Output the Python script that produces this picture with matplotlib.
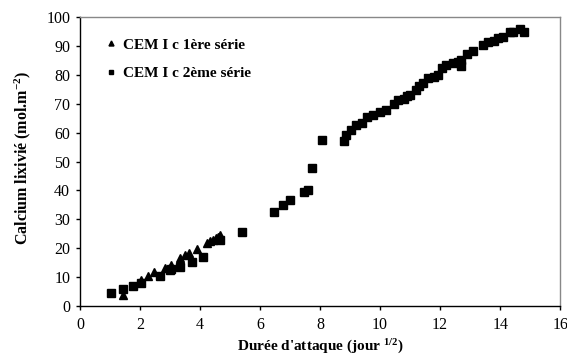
import matplotlib
matplotlib.use("Agg")
import matplotlib.pyplot as plt

plt.rcParams['font.family'] = ['Liberation Serif', 'DejaVu Serif']
plt.rcParams['mathtext.fontset'] = 'custom'
plt.rcParams['mathtext.rm'] = 'Liberation Serif'
plt.rcParams['mathtext.bf'] = 'Liberation Serif:bold'
plt.rcParams['mathtext.it'] = 'Liberation Serif:italic'

series1_label = "CEM I c 1ère série"
series1_x = [1.44, 2.02, 2.26, 2.47, 2.83, 3.02, 3.33, 3.5, 3.63, 3.89, 4.22,
             4.32, 4.42, 4.52, 4.6, 4.68]
series1_y = [3.8, 9.0, 10.5, 11.8, 13.1, 14.3, 16.7, 17.6, 18.5, 19.8, 21.9,
             22.4, 22.9, 23.4, 24.0, 24.5]

series2_label = "CEM I c 2ème série"
series2_x = [1.02, 1.44, 1.76, 2.02, 2.67, 3.0, 3.02, 3.33, 3.74, 4.1, 4.65,
             5.4, 6.47, 6.77, 6.99, 7.47, 7.6, 7.73, 8.07,
             8.81, 8.86, 9.03, 9.2, 9.41, 9.58, 9.78, 9.98, 10.18, 10.47, 10.6,
             10.8, 10.88, 11.0, 11.19, 11.3, 11.44, 11.61, 11.78, 11.94, 12.06,
             12.2, 12.42, 12.61, 12.69, 12.69, 12.89, 13.11, 13.44, 13.61, 13.78,
             13.94, 14.11, 14.33, 14.44, 14.67, 14.8]
series2_y = [4.4, 5.9, 7.0, 8.1, 10.5, 12.3, 12.9, 13.6, 15.2, 17.0, 22.8,
             25.6, 32.6, 34.9, 36.8, 39.6, 40.0, 47.6, 57.6,
             57.2, 59.2, 60.9, 62.7, 63.4, 65.3, 66.2, 67.0, 67.8, 69.9, 71.3,
             71.6, 72.5, 73.0, 74.7, 76.1, 77.3, 79.0, 79.4, 79.9, 82.5,
             83.4, 84.0, 84.5, 83.0, 85.1, 87.2, 88.2, 90.3, 91.2, 91.8,
             92.6, 93.2, 94.7, 94.9, 95.7, 94.9]

x_ticks = [0, 2, 4, 6, 8, 10, 12, 14, 16]
y_ticks = [0, 10, 20, 30, 40, 50, 60, 70, 80, 90, 100]

fig = plt.figure(figsize=(5.67, 3.59), dpi=100)
ax = fig.add_axes([0.141, 0.1476, 0.847, 0.805])

ax.plot(series1_x, series1_y, linestyle='none', marker='^', color='black',
        markersize=6, label=series1_label)
ax.plot(series2_x, series2_y, linestyle='none', marker='s', color='black',
        markersize=5.6, label=series2_label)

ax.set_xlim(0, 16)
ax.set_ylim(0, 100)
ax.set_xticks(x_ticks)
ax.set_yticks(y_ticks)
ax.tick_params(direction='out', length=3, width=1, labelsize=11.5)
ax.tick_params(axis='x', pad=5)
ax.tick_params(axis='y', pad=4)

for s in ['left', 'bottom']:
    ax.spines[s].set_color('black')
    ax.spines[s].set_linewidth(1)
for s in ['top', 'right']:
    ax.spines[s].set_color('#888888')
    ax.spines[s].set_linewidth(1)

ax.set_xlabel(r"Durée d'attaque (jour $^{\mathbf{1/2}}$)", fontsize=11,
              fontweight='bold')
ax.xaxis.set_label_coords(0.5, -0.143)
ax.xaxis.label.set_va('center')
ax.set_ylabel(r"Calcium lixivié (mol.m$^{\mathbf{-2}}$)", fontsize=11.5,
              fontweight='bold')
ax.yaxis.set_label_coords(-0.097, 0.514)

leg = ax.legend(loc='upper left', bbox_to_anchor=(0.028, 0.975), frameon=False,
                prop={'weight': 'bold', 'size': 11}, handlelength=0.5,
                handletextpad=0.55, labelspacing=0.95, markerscale=0.6)

fig.savefig("out.png", dpi=100)
